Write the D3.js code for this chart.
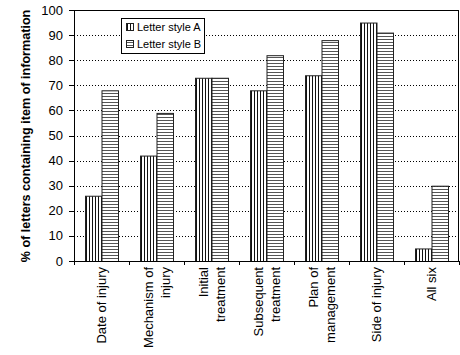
<!DOCTYPE html>
<html lang="en">
<head>
<meta charset="UTF-8">
<title>Letter style A vs B</title>
<script src="https://d3js.org/d3.v7.min.js"></script>
<style>
    body { margin: 0; background: #fff; }
    svg { display: block; font-family: "Liberation Sans", Arial, sans-serif; }
    .tick-label { font-size: 13px; fill: #000; }
    .y-title { font-size: 12.6px; font-weight: bold; fill: #000; }
    .legend-text { font-size: 11px; fill: #000; }
</style>
</head>
<body>
<svg id="chart" width="460" height="355"></svg>
<script>
// data
const categories = [
    ["Date of injury"],
    ["Mechanism of", "injury"],
    ["Initial", "treatment"],
    ["Subsequent", "treatment"],
    ["Plan of", "management"],
    ["Side of injury"],
    ["All six"]
];
const seriesNames = ["Letter style A", "Letter style B"];
const styleA = [26, 42, 73, 68, 74, 95, 5];
const styleB = [68, 59, 73, 82, 88, 91, 30];
const yTicks = [0, 10, 20, 30, 40, 50, 60, 70, 80, 90, 100];

const rows = categories.map((c, i) => ({ idx: i, lines: c, values: [styleA[i], styleB[i]] }));

const margin = { top: 10, right: 1, bottom: 94, left: 74 };
const width = 460, height = 355;
const svg = d3.select("#chart");

const defs = svg.append("defs");
// vertical stripes for A
const pA = defs.append("pattern").attr("id", "patA")
    .attr("patternUnits", "userSpaceOnUse").attr("width", 3).attr("height", 3);
pA.append("rect").attr("width", 3).attr("height", 3).attr("fill", "#fff");
pA.append("rect").attr("x", 0).attr("width", 1).attr("height", 3).attr("fill", "#111");
// horizontal stripes for B
const pB = defs.append("pattern").attr("id", "patB")
    .attr("patternUnits", "userSpaceOnUse").attr("width", 3).attr("height", 3);
pB.append("rect").attr("width", 3).attr("height", 3).attr("fill", "#fff");
pB.append("rect").attr("y", 0).attr("width", 3).attr("height", 1).attr("fill", "#555");
const fills = ["url(#patA)", "url(#patB)"];

const x0 = d3.scaleBand()
    .domain(rows.map(d => d.idx))
    .range([margin.left, width - margin.right])
    .padding(0);

const x1 = d3.scaleBand()
    .domain([0, 1])
    .range([0, x0.bandwidth()])
    .paddingInner(0)
    .paddingOuter(0.667);

const y = d3.scaleLinear()
    .domain([0, 100])
    .range([height - margin.bottom, margin.top]);

// gridlines (dotted)
svg.append("g")
    .selectAll("line")
    .data(yTicks.filter(t => t > 0 && t < 100))
    .enter().append("line")
    .attr("x1", margin.left)
    .attr("x2", width - margin.right)
    .attr("y1", d => Math.round(y(d)) + 0.5)
    .attr("y2", d => Math.round(y(d)) + 0.5)
    .attr("stroke", "#000")
    .attr("stroke-dasharray", "1,2");

// y axis tick labels
svg.append("g")
    .selectAll("text")
    .data(yTicks)
    .enter().append("text")
    .attr("class", "tick-label")
    .attr("x", margin.left - 11)
    .attr("y", d => y(d))
    .attr("dy", "0.35em")
    .attr("text-anchor", "end")
    .text(d => d);

// y tick marks
svg.append("g")
    .selectAll("line")
    .data(yTicks)
    .enter().append("line")
    .attr("x1", margin.left - 5).attr("x2", margin.left)
    .attr("y1", d => Math.round(y(d)) + 0.5)
    .attr("y2", d => Math.round(y(d)) + 0.5)
    .attr("stroke", "#000");

// bars
const groups = svg.append("g")
    .selectAll("g")
    .data(rows)
    .enter().append("g")
    .attr("transform", d => `translate(${x0(d.idx)},0)`);

groups.selectAll("rect")
    .data(d => d.values.map((v, s) => ({ s, v })))
    .enter().append("rect")
    .attr("x", d => x1(d.s) + 0.5)
    .attr("y", d => y(d.v) + 0.5)
    .attr("width", x1.bandwidth())
    .attr("height", d => y(0) - y(d.v))
    .attr("fill", d => fills[d.s])
    .attr("stroke", "#222")
    .attr("stroke-width", 1);

// plot frame
svg.append("rect")
    .attr("x", margin.left + 0.5)
    .attr("y", margin.top + 0.5)
    .attr("width", width - margin.right - margin.left - 1)
    .attr("height", y(0) - margin.top)
    .attr("fill", "none")
    .attr("stroke", "#000");

// x category ticks
const xTickPos = rows.map(d => x0(d.idx)).concat([x0(rows.length - 1) + x0.bandwidth()]);
svg.append("g")
    .selectAll("line")
    .data(xTickPos)
    .enter().append("line")
    .attr("x1", d => Math.round(d) + 0.5)
    .attr("x2", d => Math.round(d) + 0.5)
    .attr("y1", y(0))
    .attr("y2", y(0) + 4)
    .attr("stroke", "#000");

// x category labels (rotated)
const lineGap = 17;
const labels = svg.append("g")
    .selectAll("text")
    .data(rows)
    .enter().append("text")
    .attr("class", "tick-label")
    .attr("text-anchor", "end")
    .attr("transform", d => `translate(${x0(d.idx) + x0.bandwidth() / 2},${y(0) + 6}) rotate(-90)`);

labels.selectAll("tspan")
    .data(d => d.lines.map((t, i) => ({ t, off: (i - (d.lines.length - 1) / 2) * lineGap })))
    .enter().append("tspan")
    .attr("x", 0)
    .attr("y", d => d.off)
    .attr("dy", "0.35em")
    .text(d => d.t);

// y axis title
svg.append("text")
    .attr("class", "y-title")
    .attr("text-anchor", "middle")
    .attr("transform", "translate(30,136) rotate(-90)")
    .text("% of letters containing item of information");

// legend
const legend = svg.append("g").attr("transform", "translate(121,18)");
legend.append("rect")
    .attr("x", 0.5).attr("y", 0.5)
    .attr("width", 83).attr("height", 35)
    .attr("fill", "#fff").attr("stroke", "#000");
seriesNames.forEach((name, i) => {
    const cy = 9 + i * 17;
    legend.append("rect")
        .attr("x", 5.5).attr("y", cy - 3.5)
        .attr("width", 7).attr("height", 7)
        .attr("fill", fills[i]).attr("stroke", "#222");
    legend.append("text")
        .attr("class", "legend-text")
        .attr("x", 16).attr("y", cy + 0.5)
        .attr("dy", "0.35em")
        .text(name);
});
</script>
</body>
</html>
